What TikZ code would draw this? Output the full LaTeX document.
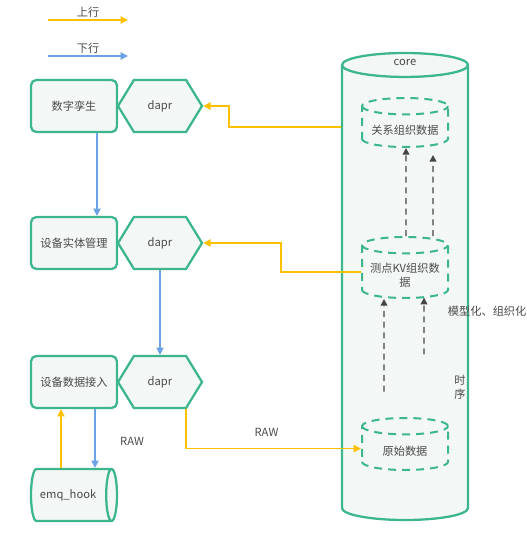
\documentclass[tikz,border=0pt]{standalone}
\usepackage{fontspec}
\setmainfont{Noto Sans CJK SC}
\usetikzlibrary{shapes.geometric,shapes.symbols,arrows.meta}
\definecolor{boxgreen}{HTML}{3CB68B}
\definecolor{boxfill}{HTML}{F3F7F5}
\definecolor{upyellow}{HTML}{FFC000}
\definecolor{downblue}{HTML}{6CA2E6}
\definecolor{txtgrey}{HTML}{4A4A4A}
\definecolor{flowgrey}{HTML}{444444}
\newcommand\dropstrut{\rule{0pt}{11.5pt}}
\tikzset{every picture/.style={line width=0.75pt}}
\tikzset{
  every node/.style={font=\fontsize{8.4}{10.5}\selectfont, text=txtgrey},
  svcbox/.style={draw=boxgreen, fill=boxfill, line width=1.7pt, rounded corners=4pt, minimum width=64.5pt, minimum height=39pt, inner sep=0pt},
  daprbox/.style={draw=boxgreen, fill=boxfill, line width=1.7pt, signal, signal to=west and east, signal pointer angle=117, minimum width=63pt, minimum height=39pt, inner sep=0pt},
  store/.style={draw=boxgreen, fill=boxfill, line width=1.7pt, cylinder, inner sep=0pt},
  datastore/.style={draw=boxgreen, line width=1.5pt, dash pattern={on 6pt off 4.5pt}, cylinder, shape border rotate=90, aspect=0.19, minimum width=64.5pt, text width=64.5pt, anchor=shape center, align=center, inner sep=0pt},
  upflow/.style={draw=upyellow, line width=1.1pt, -{Triangle[length=5.5pt,width=5.5pt]}},
  downflow/.style={draw=downblue, line width=1.1pt, -{Triangle[length=5.5pt,width=5.5pt]}},
  buildflow/.style={draw=flowgrey, line width=1.1pt, dash pattern={on 4.5pt off 3.5pt}, -{Triangle[length=5pt,width=5pt]}}
}
\begin{document}
\begin{tikzpicture}[x=0.75pt,y=0.75pt,yscale=-1,xscale=1]
	\path[use as bounding box] (0,0) rectangle (526,560);

	%Legend
	\coordinate (upA) at (48,20);
	\coordinate (upB) at (128,20);
	\coordinate (downA) at (48,56);
	\coordinate (downB) at (128,56);
	\draw[upflow] (upA) -- (upB) node[midway,above,inner sep=1.5pt] (uplabel) {上行};
	\draw[downflow] (downA) -- (downB) node[midway,above,inner sep=1.5pt] (downlabel) {下行};

	%Shape: Can [id:core]
	\node[store, shape border rotate=90, aspect=0.19, minimum width=94.5pt, text width=94.5pt, minimum height=350.25pt, anchor=shape center] (core) at (405,286.5) {};
	% Text Node
	\node (corelabel) at (405,62) {core};

	%Shape: Can dashed
	\node[datastore, minimum height=36.75pt] (rel) at (405,122.5) {\dropstrut 关系组织数据};
	\node[datastore, minimum height=45.75pt] (kv) at (405,267.5) {\dropstrut 测点KV组织数\\据};
	\node[datastore, minimum height=39pt] (raw) at (405,444) {\dropstrut 原始数据};

	%Left column
	\node[svcbox] (twin) at (74,106) {数字孪生};
	\node[svcbox] (entity) at (74,243) {设备实体管理};
	\node[svcbox] (access) at (74,382) {设备数据接入};
	\node[daprbox] (dapr1) at (160,106) {dapr};
	\node[daprbox] (dapr2) at (160,243) {dapr};
	\node[daprbox] (dapr3) at (160,382) {dapr};
	\node[store, aspect=0.21, inner ysep=15pt, minimum height=64.5pt, minimum width=39pt, anchor=shape center] (hook) at (74,495) {emq\_hook};
	\coordinate (hookup) at ([xshift=-9.75pt]access.south);
	\coordinate (hookdown) at ([xshift=15.75pt]access.south);

	%Up lines
	\draw[upflow] (core.west |- rel.west) -- ++(-112,0) |- (dapr1.east);
	\draw[upflow] (kv.west) -- ++(-80,0) |- (dapr2.east);
	\draw[upflow] ([xshift=19.5pt]dapr3.south) |- (raw.west) node[pos=0.73,above=5pt] (rawtop) {RAW};
	\draw[upflow] (hookup |- hook.north) -- (hookup);

	%Down lines
	\draw[downflow] ([xshift=17.25pt]twin.south) -- ([xshift=17.25pt]entity.north);
	\draw[downflow] (dapr2.south) -- (dapr3.north);
	\draw[downflow] (hookdown) -- (hookdown |- hook.north) node[pos=0.55,right=15pt] (rawleft) {RAW};

	%Dashed lines
	\draw[buildflow] ([xshift=0.75pt]kv.north) -- ([xshift=0.75pt]rel.south);
	\draw[buildflow] ([xshift=21pt]kv.north) -- ([xshift=21pt,yshift=5.25pt]rel.south);
	\draw[buildflow] ([xshift=-15.75pt,yshift=-19pt]raw.north) -- ([xshift=-15.75pt]kv.south);
	\draw[buildflow] ([xshift=14.25pt,yshift=-2pt]raw.north |- 0,357) -- ([xshift=14.25pt,yshift=-1pt]kv.south);

	% Text Node
	\node[anchor=west] (modellabel) at (443,311) {模型化、组织化};
	% Text Node
	\node[align=center] (timelabel) at (460,387) {时\\序};
\end{tikzpicture}
\end{document}
